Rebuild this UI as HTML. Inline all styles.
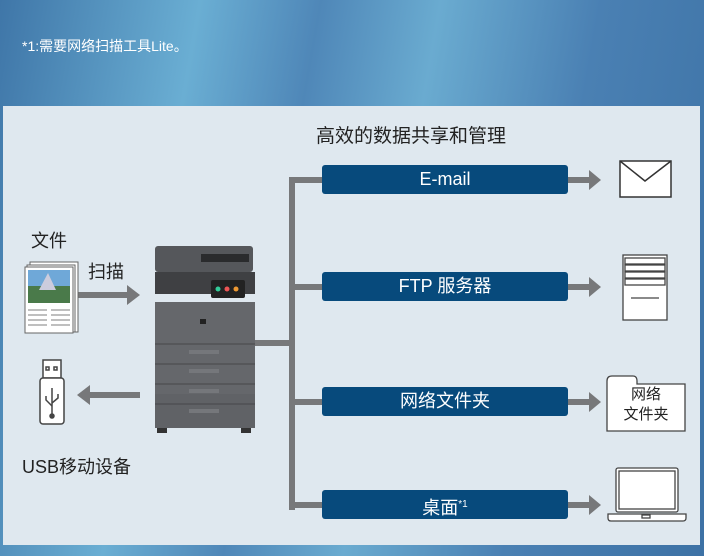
<!DOCTYPE html>
<html><head><meta charset="utf-8"><style>
*{margin:0;padding:0;box-sizing:border-box}
body{width:704px;height:556px;overflow:hidden;position:relative;font-family:"Liberation Sans","Noto Sans CJK SC",sans-serif;
background:linear-gradient(100deg,#3f76a8 0%,#6aaed3 25%,#4f87b8 40%,#6aabd0 55%,#4a80b3 75%,#3d72a5 100%)}
.a{position:absolute}
.panel{left:3px;top:106px;width:697px;height:439px;background:#dfe8ef}
.bar{left:322px;width:246px;height:29px;background:#074a7c;border-radius:3px;color:#fff;font-size:18px;text-align:center;line-height:29px}
.g{background:#77787a}
.arr{width:0;height:0;border-top:10px solid transparent;border-bottom:10px solid transparent;border-left:12px solid #77787a}
.lbl{color:#222;font-size:18px}
</style></head><body>
<div class="a" style="left:22px;top:36px;color:#fff;font-size:14px">*1:需要网络扫描工具Lite。</div>
<div class="a panel"></div>
<div class="a lbl" style="left:316px;top:121px;font-size:19px">高效的数据共享和管理</div>
<div class="a lbl" style="left:31px;top:227px">文件</div>
<div class="a lbl" style="left:88px;top:258px">扫描</div>
<div class="a lbl" style="left:22px;top:453px">USB移动设备</div>
<div class="a g" style="left:289px;top:177px;width:6px;height:333px"></div>
<div class="a g" style="left:255px;top:340px;width:40px;height:6px"></div>
<div class="a g" style="left:289px;top:177px;width:34px;height:6px"></div>
<div class="a g" style="left:289px;top:284px;width:34px;height:6px"></div>
<div class="a g" style="left:289px;top:399px;width:34px;height:6px"></div>
<div class="a g" style="left:289px;top:502px;width:34px;height:6px"></div>
<div class="a bar" style="top:165px">E-mail</div>
<div class="a bar" style="top:272px">FTP 服务器</div>
<div class="a bar" style="top:387px">网络文件夹</div>
<div class="a bar" style="top:490px">桌面<sup style="font-size:10px">*1</sup></div>
<div class="a g" style="left:568px;top:177px;width:22px;height:6px"></div><div class="a arr" style="left:589px;top:170px"></div>
<div class="a g" style="left:568px;top:284px;width:22px;height:6px"></div><div class="a arr" style="left:589px;top:277px"></div>
<div class="a g" style="left:568px;top:399px;width:22px;height:6px"></div><div class="a arr" style="left:589px;top:392px"></div>
<div class="a g" style="left:568px;top:502px;width:22px;height:6px"></div><div class="a arr" style="left:589px;top:495px"></div>
<div class="a g" style="left:78px;top:292px;width:50px;height:6px"></div><div class="a arr" style="left:127px;top:285px;border-left-width:13px"></div>
<div class="a g" style="left:90px;top:392px;width:50px;height:6px"></div><div class="a" style="left:77px;top:385px;width:0;height:0;border-top:10px solid transparent;border-bottom:10px solid transparent;border-right:13px solid #77787a"></div>
<svg class="a" style="left:24px;top:260px" width="56" height="74">
<rect x="6" y="2" width="48" height="70" fill="#fff" stroke="#666"/>
<rect x="3" y="5" width="48" height="67" fill="#fff" stroke="#666"/>
<rect x="1" y="7" width="48" height="66" fill="#fff" stroke="#666"/>
<rect x="4" y="10" width="42" height="33" fill="#4a7a4a"/>
<rect x="4" y="10" width="42" height="16" fill="#6fa8d8"/>
<polygon points="15,30 24,13 32,30" fill="#ccd"/>
<g stroke="#999" stroke-width="1.2"><line x1="4" y1="50" x2="23" y2="50"/><line x1="4" y1="55" x2="23" y2="55"/><line x1="4" y1="60" x2="23" y2="60"/><line x1="4" y1="65" x2="23" y2="65"/><line x1="27" y1="50" x2="46" y2="50"/><line x1="27" y1="55" x2="46" y2="55"/><line x1="27" y1="60" x2="46" y2="60"/><line x1="27" y1="65" x2="46" y2="65"/></g>
</svg>
<svg class="a" style="left:36px;top:358px" width="32" height="70" fill="none" stroke="#444" stroke-width="1.5">
<rect x="7" y="2" width="18" height="18" fill="#fff"/><rect x="10" y="9" width="3" height="3"/><rect x="18" y="9" width="3" height="3"/>
<rect x="4" y="20" width="24" height="46" rx="3" fill="#fff"/>
<line x1="16" y1="30" x2="16" y2="58"/><circle cx="16" cy="58" r="2" fill="#444"/><path d="M16 48 L10 42 V38 M16 45 L22 40 V36"/>
</svg>
<svg class="a" style="left:153px;top:244px" width="104" height="194">
<rect x="2" y="2" width="98" height="26" rx="3" fill="#55575b"/>
<rect x="48" y="10" width="48" height="8" fill="#2a2b2d"/>
<rect x="2" y="28" width="100" height="22" fill="#3f4043"/>
<rect x="58" y="36" width="34" height="18" rx="2" fill="#222"/>
<circle cx="65" cy="45" r="2.5" fill="#3c9"/><circle cx="74" cy="45" r="2.5" fill="#e55"/><circle cx="83" cy="45" r="2.5" fill="#e93"/>
<rect x="2" y="58" width="100" height="92" fill="#65676b"/>
<rect x="2" y="150" width="100" height="34" fill="#606266"/>
<g stroke="#46474a" stroke-width="1"><line x1="2" y1="100" x2="102" y2="100"/><line x1="2" y1="120" x2="102" y2="120"/><line x1="2" y1="140" x2="102" y2="140"/><line x1="2" y1="160" x2="102" y2="160"/></g>
<g fill="#75777b"><rect x="36" y="106" width="30" height="4"/><rect x="36" y="125" width="30" height="4"/><rect x="36" y="145" width="30" height="4"/><rect x="36" y="165" width="30" height="4"/></g>
<rect x="47" y="75" width="6" height="5" fill="#222"/>
<rect x="4" y="184" width="10" height="5" fill="#333"/><rect x="88" y="184" width="10" height="5" fill="#333"/>
</svg>
<svg class="a" style="left:619px;top:158px" width="54" height="42" fill="#fff" stroke="#333" stroke-width="1.5">
<rect x="1" y="3" width="51" height="36"/><polyline points="1,3 26,23 52,3" fill="none"/>
</svg>
<svg class="a" style="left:621px;top:253px" width="48" height="70" stroke="#444" stroke-width="1.3" fill="#fff">
<rect x="2" y="2" width="44" height="65"/>
<rect x="4" y="5" width="40" height="6"/><rect x="4" y="12" width="40" height="6"/><rect x="4" y="19" width="40" height="6"/><rect x="4" y="26" width="40" height="6"/>
<line x1="10" y1="45" x2="38" y2="45"/>
</svg>
<svg class="a" style="left:605px;top:371px" width="84" height="62" stroke="#444" stroke-width="1.3" fill="#fff">
<path d="M2 60 V10 Q2 5 7 5 H28 Q32 5 32 10 V13 H80 V60 Z"/>
</svg>
<div class="a" style="left:605px;top:385px;width:82px;text-align:center;font-size:15px;line-height:20px;color:#222">网络<br>文件夹</div>
<svg class="a" style="left:606px;top:466px" width="82" height="58" stroke="#444" stroke-width="1.3" fill="#fff">
<rect x="10" y="2" width="62" height="44" rx="2"/><rect x="13" y="5" width="56" height="38"/>
<path d="M2 48 H80 V52 Q80 55 77 55 H5 Q2 55 2 52 Z"/><rect x="36" y="49" width="8" height="3"/>
</svg>
</body></html>
